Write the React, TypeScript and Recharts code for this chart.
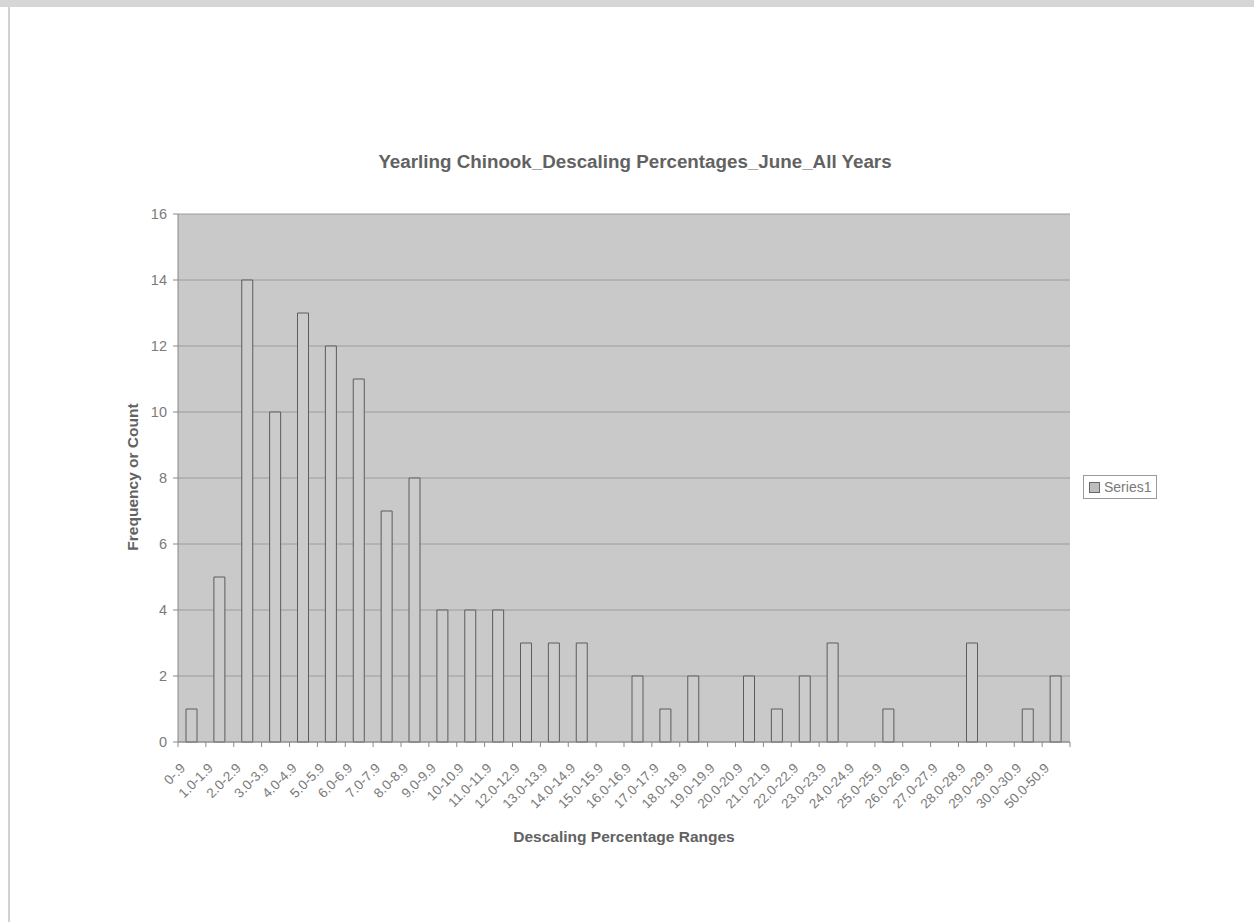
import { Bar, BarChart, CartesianGrid, XAxis, YAxis } from "recharts";

const categories = [
  "0-.9", "1.0-1.9", "2.0-2.9", "3.0-3.9", "4.0-4.9", "5.0-5.9", "6.0-6.9", "7.0-7.9",
  "8.0-8.9", "9.0-9.9", "10-10.9", "11.0-11.9", "12.0-12.9", "13.0-13.9", "14.0-14.9",
  "15.0-15.9", "16.0-16.9", "17.0-17.9", "18.0-18.9", "19.0-19.9", "20.0-20.9",
  "21.0-21.9", "22.0-22.9", "23.0-23.9", "24.0-24.9", "25.0-25.9", "26.0-26.9",
  "27.0-27.9", "28.0-28.9", "29.0-29.9", "30.0-30.9", "50.0-50.9",
];

const series1 = [
  1, 5, 14, 10, 13, 12, 11, 7, 8, 4, 4, 4, 3, 3, 3, 0, 2, 1, 2, 0, 2, 1, 2, 3, 0, 1, 0, 0, 3, 0,
  1, 2,
];

const yTicks = [0, 2, 4, 6, 8, 10, 12, 14, 16];

const data = categories.map((range, i) => ({ range, count: series1[i] }));

const W = 1254;
const H = 922;
const MARGIN = { top: 214, right: 184, bottom: 80, left: 128 };
const Y_WIDTH = 50;
const X_HEIGHT = 100;
const BAND = (W - MARGIN.left - Y_WIDTH - MARGIN.right) / categories.length;

const FONT = "'Liberation Sans', Arial, sans-serif";
const TEXT = "#7a7a7a";
const HEAD = "#626262";

// category labels slanted at 45deg, plus Excel-style tick marks between categories
function RangeTick(props: any) {
  const { x, y, payload, index } = props;
  const last = index === categories.length - 1;
  const ax = x - 6;
  const ay = y + 27;
  return (
    <g>
      <line x1={x - BAND / 2} x2={x - BAND / 2} y1={y} y2={y + 5} stroke="#8a8a8a" />
      {last ? <line x1={x + BAND / 2} x2={x + BAND / 2} y1={y} y2={y + 5} stroke="#8a8a8a" /> : null}
      <text
        x={ax}
        y={ay}
        textAnchor="end"
        transform={`rotate(-45, ${ax}, ${ay})`}
        fontSize={13.5}
        fill={TEXT}
        fontFamily={FONT}
      >
        {payload.value}
      </text>
    </g>
  );
}

export default function App() {
  return (
    <div
      style={{
        position: "absolute",
        top: 0,
        left: 0,
        width: W,
        height: H,
        background: "#fff",
        overflow: "hidden",
      }}
    >
      <div style={{ position: "absolute", top: 0, left: 0, width: W, height: 7, background: "#d6d6d6" }} />
      <div style={{ position: "absolute", top: 7, left: 8, width: 2, height: H, background: "#d2d2d2" }} />
      <BarChart
        width={W}
        height={H}
        data={data}
        margin={MARGIN}
        style={{ position: "absolute", top: 0, left: 0 }}
      >
        <CartesianGrid vertical={false} fill="#c9c9c9" stroke="#9c9c9c" horizontalValues={yTicks} />
        <XAxis
          dataKey="range"
          interval={0}
          height={X_HEIGHT}
          tickSize={0}
          tickMargin={0}
          tickLine={false}
          axisLine={{ stroke: "#888" }}
          tick={<RangeTick />}
        />
        <YAxis
          domain={[0, 16]}
          ticks={yTicks}
          width={Y_WIDTH}
          tickSize={5}
          tickMargin={6}
          tickLine={{ stroke: "#888" }}
          axisLine={{ stroke: "#888" }}
          tick={{ fontSize: 14.5, fill: TEXT, fontFamily: FONT }}
        />
        <Bar
          dataKey="count"
          name="Series1"
          barSize={11}
          fill="#cbcbcb"
          stroke="#5c5c5c"
          strokeWidth={1}
          isAnimationActive={false}
        />
      </BarChart>
      <div
        style={{
          position: "absolute",
          top: 151,
          left: 0,
          width: W,
          textAlign: "center",
          paddingLeft: 16,
          boxSizing: "border-box",
          fontFamily: FONT,
          fontSize: 18.8,
          fontWeight: "bold",
          color: HEAD,
        }}
      >
        Yearling Chinook_Descaling Percentages_June_All Years
      </div>
      <div
        style={{
          position: "absolute",
          top: 828,
          left: 178,
          width: 892,
          textAlign: "center",
          fontFamily: FONT,
          fontSize: 15.5,
          fontWeight: "bold",
          color: HEAD,
        }}
      >
        Descaling Percentage Ranges
      </div>
      <div
        style={{
          position: "absolute",
          top: 477,
          left: 133,
          transform: "translate(-50%, -50%) rotate(-90deg)",
          whiteSpace: "nowrap",
          fontFamily: FONT,
          fontSize: 15.5,
          fontWeight: "bold",
          color: HEAD,
        }}
      >
        Frequency or Count
      </div>
      <div
        style={{
          position: "absolute",
          top: 475,
          left: 1083,
          border: "1px solid #9a9a9a",
          padding: "3px 5px",
          display: "flex",
          alignItems: "center",
          gap: 4,
          fontFamily: FONT,
          fontSize: 14,
          color: TEXT,
          background: "#fff",
        }}
      >
        <span
          style={{
            width: 9,
            height: 9,
            background: "#bdbdbd",
            border: "1px solid #666",
            display: "inline-block",
          }}
        />
        Series1
      </div>
    </div>
  );
}
